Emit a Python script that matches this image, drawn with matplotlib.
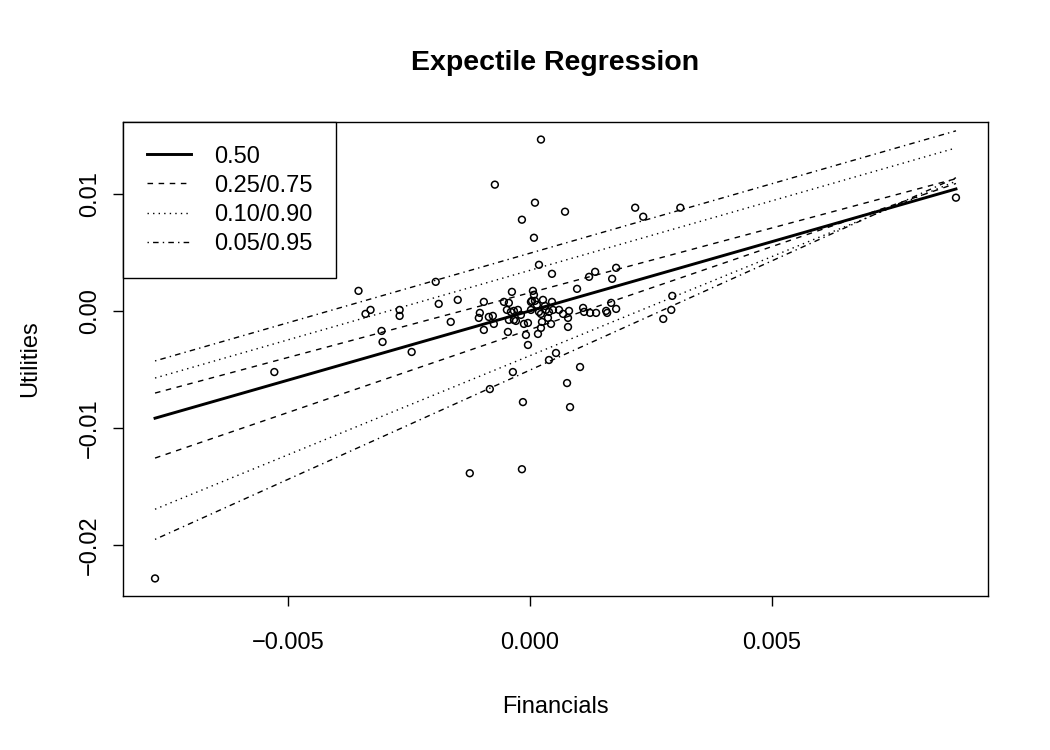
import matplotlib
matplotlib.use("Agg")
import matplotlib.pyplot as plt
import numpy as np
from matplotlib.lines import Line2D

plt.rcParams['font.family'] = ['Liberation Sans', 'DejaVu Sans']

# Scatter data: Financials (x) vs Utilities (y)
financials = [
    -0.007759, 0.008817, 0.000228, -0.000726, 0.000104, 0.000726, -0.000166, 0.000083,
    0.000187, 0.000456, 0.002178, 0.002344, 0.003112, 0.001224, 0.001349, 0.001784,
    0.001701, 0.000975, 0.002946, 0.001681, 0.001577, 0.001598, 0.001784, 0.002925,
    0.002759, 0.001120, 0.001245, 0.001369, -0.003548, -0.001950, -0.003403, -0.003299,
    -0.002697, -0.002697, -0.001888, -0.001494, -0.001639, -0.003071, -0.003050, -0.002448,
    -0.005290, -0.000830, -0.000353, -0.000145, 0.000768, 0.000830, 0.001037, 0.000394,
    0.000539, -0.001245, -0.000166, -0.000373, -0.000954, -0.001037, -0.001058, -0.000851,
    -0.000768, -0.000954, -0.000747, -0.000539, -0.000436, -0.000477, -0.000394, -0.000332,
    -0.000249, -0.000436, -0.000332, -0.000124, -0.000456, -0.000083, -0.000041, 0.000062,
    0.000041, 0.000104, 0.000270, 0.000456, 0.000021, 0.000187, 0.000228, 0.000332,
    0.000394, 0.000477, 0.000602, 0.000809, 0.000685, 0.000788, 0.000373, 0.000436,
    0.000249, 0.000166, 0.000228, 0.000788, 0.001100, -0.000041, 0.000083, 0.000021,
    -0.000290, 0.000145, 0.000311, -0.000187,
]
utilities = [
    -0.022820, 0.009658, 0.014615, 0.010769, 0.009231, 0.008462, 0.007778, 0.006239,
    0.003932, 0.003162, 0.008803, 0.008034, 0.008803, 0.002906, 0.003333, 0.003675,
    0.002735, 0.001880, 0.001282, 0.000684, 0.000000, -0.000171, 0.000171, 0.000085,
    -0.000684, -0.000085, -0.000171, -0.000171, 0.001709, 0.002479, -0.000256, 0.000085,
    0.000085, -0.000427, 0.000598, 0.000940, -0.000940, -0.001709, -0.002650, -0.003504,
    -0.005214, -0.006667, -0.005214, -0.007778, -0.006154, -0.008205, -0.004786, -0.004188,
    -0.003590, -0.013846, -0.013504, 0.001624, 0.000769, -0.000171, -0.000598, -0.000513,
    -0.000427, -0.001624, -0.001111, 0.000769, 0.000684, 0.000085, -0.000085, 0.000000,
    0.000085, -0.000769, -0.000769, -0.001111, -0.001795, -0.002051, -0.002906, 0.001709,
    0.000855, 0.000855, 0.000940, 0.000769, 0.000085, -0.000085, -0.000256, 0.000085,
    -0.000085, 0.000085, 0.000085, 0.000000, -0.000256, -0.000598, -0.000598, -0.001111,
    -0.000940, -0.001966, -0.001453, -0.001368, 0.000256, -0.001026, 0.001368, 0.000769,
    -0.000855, 0.000513, 0.000427, -0.000342,
]

# Expectile regression lines: (expectile, intercept, slope)
expectiles = [0.05, 0.10, 0.25, 0.50, 0.75, 0.90, 0.95]
intercepts = [-0.00505, -0.00382, -0.00159, 0.00000, 0.00155, 0.00346, 0.00492]
slopes = [1.861, 1.688, 1.413, 1.1795, 1.103, 1.184, 1.184]

legend_labels = ["0.50", "0.25/0.75", "0.10/0.90", "0.05/0.95"]

styles = {
    0.50: dict(linestyle='-', lw=2.1),
    0.25: dict(linestyle=(0, (4, 4)), lw=1.0),
    0.75: dict(linestyle=(0, (4, 4)), lw=1.0),
    0.10: dict(linestyle=(0, (1, 3)), lw=1.0),
    0.90: dict(linestyle=(0, (1, 3)), lw=1.0),
    0.05: dict(linestyle=(0, (1, 3, 4, 3)), lw=1.0),
    0.95: dict(linestyle=(0, (1, 3, 4, 3)), lw=1.0),
}

FS = 17

fig = plt.figure(figsize=(10.5, 7.5), dpi=100)
ax = fig.add_axes([123/1050, 1 - 596/750, (988-123)/1050, (596-122)/750])

x = np.array(financials)
y = np.array(utilities)
ax.scatter(x, y, s=24, facecolors='none', edgecolors='black', linewidths=1.1, zorder=3)

xs = np.array([x.min(), x.max()])
for e, b0, b1 in zip(expectiles, intercepts, slopes):
    ax.plot(xs, b0 + b1 * xs, color='black', **styles[e])

# R-style 4% extension
xr = x.max() - x.min()
yr = y.max() - y.min()
ax.set_xlim(x.min() - 0.04 * xr, x.max() + 0.04 * xr)
ax.set_ylim(y.min() - 0.04 * yr, y.max() + 0.04 * yr)

xticks = [-0.005, 0.0, 0.005]
xticklabels = ["\u22120.005", "0.000", "0.005"]
yticks = [-0.02, -0.01, 0.0, 0.01]
yticklabels = ["\u22120.02", "\u22120.01", "0.00", "0.01"]
ax.set_xticks(xticks)
ax.set_xticklabels(xticklabels)
ax.set_yticks(yticks)
ax.set_yticklabels(yticklabels, rotation=90, va='center')
ax.tick_params(axis='both', direction='out', length=7, width=1, labelsize=FS, colors='black')
ax.tick_params(axis='x', pad=19)
ax.tick_params(axis='y', pad=9)
for sp in ax.spines.values():
    sp.set_linewidth(1.0)
    sp.set_color('black')

ax.set_xlabel("Financials", fontsize=FS, labelpad=30)
ax.set_ylabel("Utilities", fontsize=FS, labelpad=27)
fig.text(555/1050, 1 - 63/750, "Expectile Regression", ha='center', va='center',
         fontsize=20.5, fontweight='bold')

handles = [
    Line2D([], [], color='black', **styles[0.50]),
    Line2D([], [], color='black', **styles[0.25]),
    Line2D([], [], color='black', **styles[0.10]),
    Line2D([], [], color='black', **styles[0.05]),
]
leg = ax.legend(handles, legend_labels, loc='upper left', bbox_to_anchor=(0, 1),
                borderaxespad=0, fontsize=FS, frameon=True, fancybox=False,
                edgecolor='black', framealpha=1, handlelength=1.9, handletextpad=0.95,
                labelspacing=0.3, borderpad=1.0)
leg.get_frame().set_linewidth(1.0)

fig.savefig("out.png", dpi=100)
